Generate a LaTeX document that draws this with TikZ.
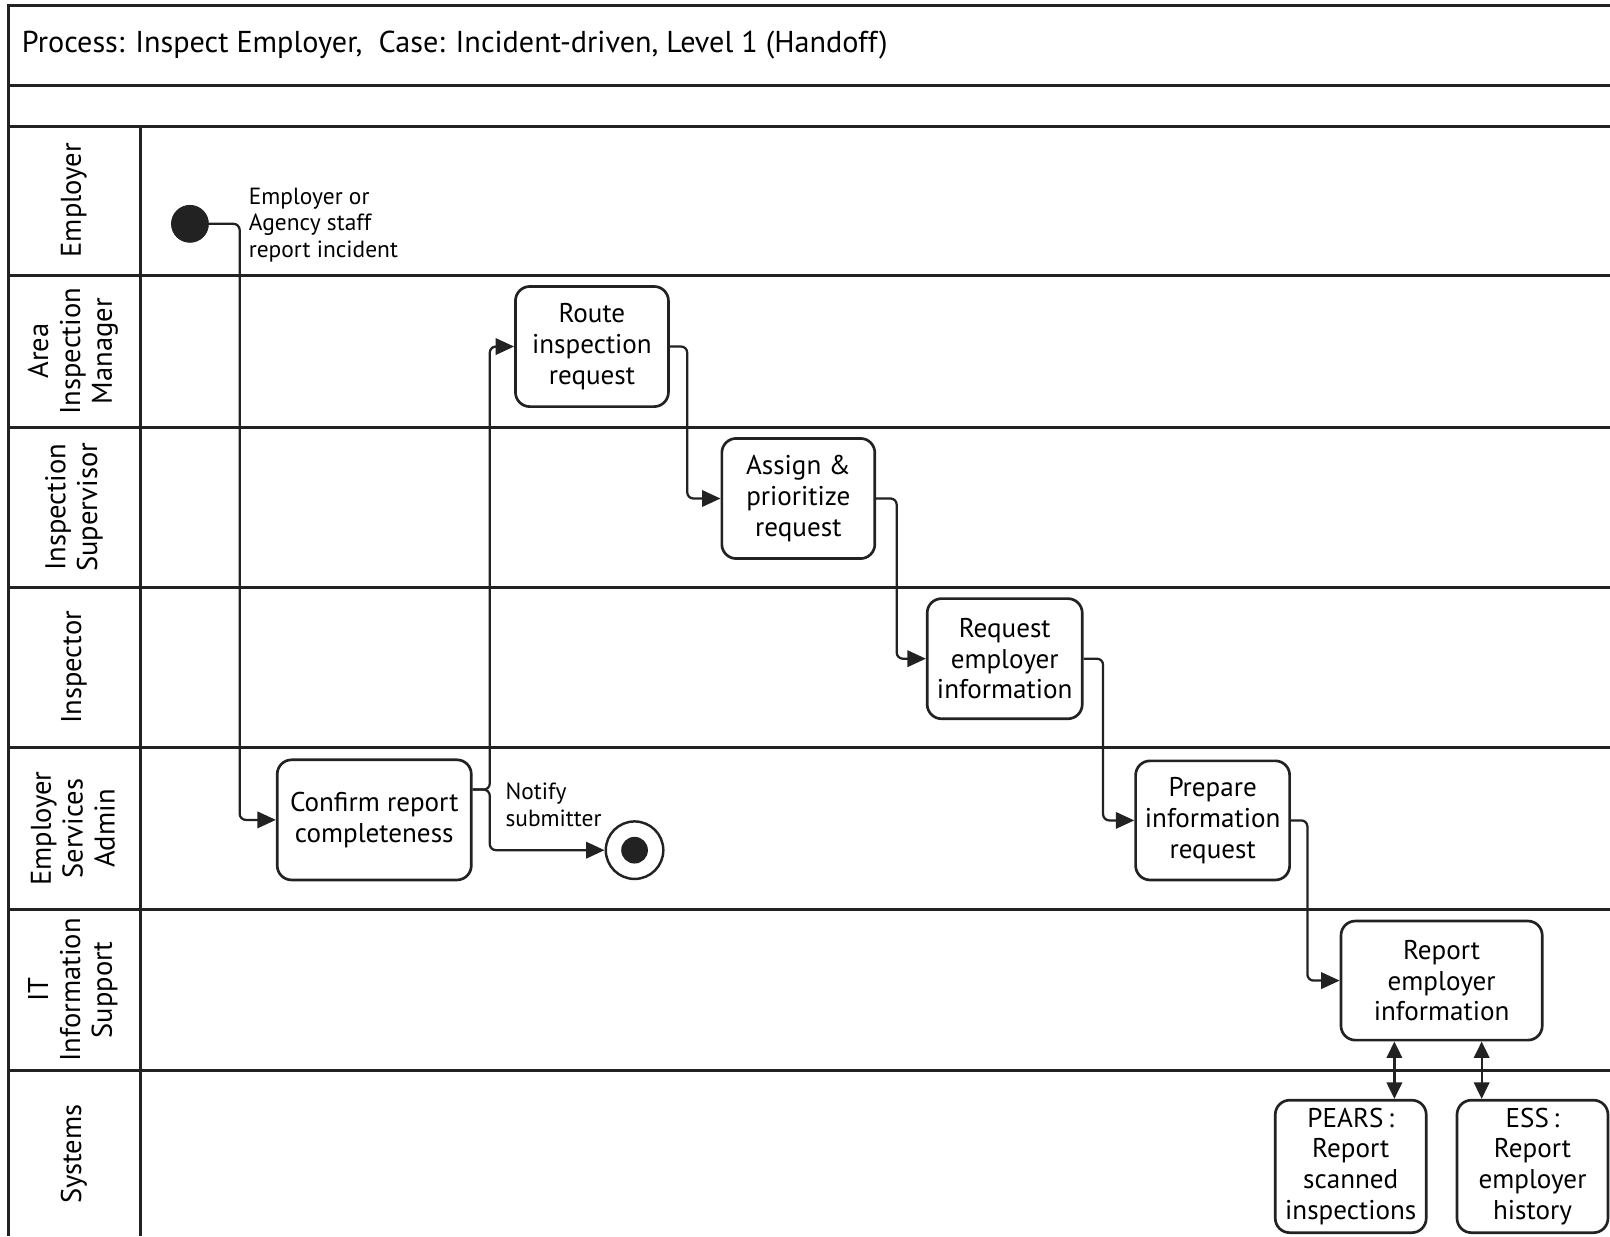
\documentclass[tikz,border=0pt]{standalone}
\usepackage{fontspec}
\setmainfont{PT Sans}
\usetikzlibrary{arrows.meta,calc}
\definecolor{ink}{HTML}{222222}
\begin{document}
\begin{tikzpicture}[x=0.5pt,y=-0.5pt,
  frame/.style={draw=ink,line width=1.5pt},
  task/.style={draw=ink,line width=1.3pt,rounded corners=7pt,align=center,
    font=\fontsize{13.2}{15}\selectfont,inner sep=0pt},
  lanelabel/.style={rotate=90,align=center,font=\fontsize{13.9}{15.5}\selectfont},
  note/.style={anchor=west,align=left,font=\fontsize{11.4}{13}\selectfont,inner sep=0pt},
  flow/.style={draw=ink,line width=1.1pt,rounded corners=3pt,
    -{Triangle[length=9pt,width=8pt]}},
  both/.style={draw=ink,line width=1.1pt,
    {Triangle[length=8pt,width=7.5pt]}-{Triangle[length=8pt,width=7.5pt]}}]
\useasboundingbox (0,0) rectangle (1568,1204);

% pool frame, header rows and swimlane dividers
\draw[frame] (1568,5) -- (8,5) -- (8,1204);
\foreach \yy in {83,123,268,416,572,728,886,1043}
  \draw[frame] (8,\yy) -- (1568,\yy);
\draw[frame] (137,123) -- (137,1204);

\node[anchor=west,font=\fontsize{14.7}{17}\selectfont,inner sep=0pt] (title) at (21,44)
  {Process: Inspect Employer,\ \ Case: Incident-driven, Level 1 (Handoff)};

% lane names
\node[lanelabel] (lEmp)  at (72,195)  {Employer};
\node[lanelabel] (lAim)  at (71,342)  {Area\\Inspection\\Manager};
\node[lanelabel] (lSup)  at (72,494)  {Inspection\\Supervisor};
\node[lanelabel] (lIns)  at (72,650)  {Inspector};
\node[lanelabel] (lEsa)  at (71,807)  {Employer\\Services\\Admin};
\node[lanelabel] (lIt)   at (71,964)  {IT\\Information\\Support};
\node[lanelabel] (lSys)  at (72,1124) {Systems};

% start and end events
\node[circle,fill=ink,draw=ink,minimum size=18pt,inner sep=0pt] (start) at (185,218) {};
\node[circle,draw=ink,line width=1.2pt,fill=white,minimum size=28pt,inner sep=0pt] (endc) at (618,828) {};
\node[circle,fill=ink,minimum size=13pt,inner sep=0pt] (endin) at (618,828) {};

\node[note] (startlbl) at (242,219) {Employer or\\Agency staff\\report incident};
\node[note] (notify) at (492,784) {Notify\\submitter};

% activities
\node[task,minimum width=94.5pt,minimum height=58.5pt] (confirm) at (364.5,798.5)
  {Confirm report\\completeness};
\node[task,minimum width=74.5pt,minimum height=58.5pt] (route) at (576.5,337.5)
  {Route\\inspection\\request};
\node[task,minimum width=74.5pt,minimum height=58.5pt] (assign) at (777.5,485.5)
  {Assign \&\\prioritize\\request};
\node[task,minimum width=75.5pt,minimum height=58.5pt] (request) at (978.5,641.5)
  {Request\\employer\\information};
\node[task,minimum width=75pt,minimum height=58pt] (prepare) at (1181,799)
  {Prepare\\information\\request};
\node[task,minimum width=98pt,minimum height=58pt] (report) at (1404,955)
  {Report\\employer\\information};
\node[task,minimum width=73.5pt,minimum height=64.5pt] (pears) at (1315.5,1136)
  {PEARS\,:\\Report\\scanned\\inspections};
\node[task,minimum width=73.5pt,minimum height=64.5pt] (ess) at (1492.5,1136)
  {ESS\,:\\Report\\employer\\history};

% sequence flow
\coordinate (split) at (477,769);
\coordinate (xp) at (1358,0);
\coordinate (xe) at (1443,0);
\path[flow] (start.east) -- ++(30,0) |- (confirm.west);
\path[flow] (confirm.east |- split) -- (split) |- (route.west);
\path[flow] (confirm.east |- split) -- (split) |- (endc.west);
\path[flow] (route.east) -- ++(17,0) |- (assign.west);
\path[flow] (assign.east) -- ++(20,0) |- (request.west);
\path[flow] (request.east) -- ++(19,0) |- (prepare.west);
\path[flow] (prepare.east) -- ++(16,0) |- (report.west);
\path[both] (report.south -| xp) -- (pears.north -| xp);
\path[both] (report.south -| xe) -- (ess.north -| xe);
\end{tikzpicture}
\end{document}
